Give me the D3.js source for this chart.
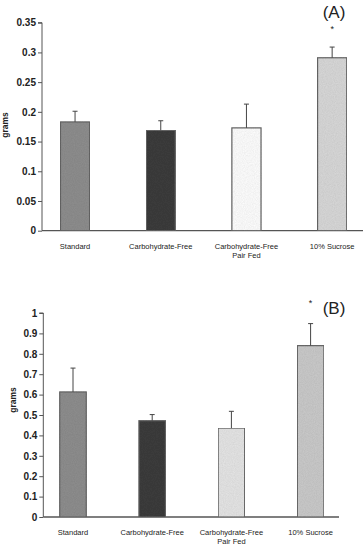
<!DOCTYPE html>
<html>
<head>
<meta charset="utf-8">
<script src="https://d3js.org/d3.v7.min.js"></script>
<style>
  body { margin: 0; background: #fff; }
  svg text { font-family: "Liberation Sans", Arial, sans-serif; fill: #222; }
</style>
</head>
<body>
<div id="chart"></div>
<script>
// groups
const categories = ["Standard", "Carbohydrate-Free", "Carbohydrate-Free|Pair Fed", "10% Sucrose"];

// panel A
const meansA = [0.183, 0.169, 0.173, 0.291];
const semA = [0.018, 0.016, 0.040, 0.018];
const ticksA = [0, 0.05, 0.1, 0.15, 0.2, 0.25, 0.3, 0.35];

// panel B
const meansB = [0.613, 0.472, 0.436, 0.840];
const semB = [0.117, 0.030, 0.082, 0.108];
const ticksB = [0, 0.1, 0.2, 0.3, 0.4, 0.5, 0.6, 0.7, 0.8, 0.9, 1];

const fillsA = ["#8f8f8f", "#3e3e3e", "#ffffff", "#d9d9d9"];
const fillsB = ["#8f8f8f", "#3e3e3e", "#e6e6e6", "#cbcbcb"];

const svg = d3.select("#chart").append("svg")
    .attr("width", 364)
    .attr("height", 546);

// a bit of scan grain on the bars
const grain = svg.append("defs").append("filter")
    .attr("id", "grain").attr("x", 0).attr("y", 0).attr("width", 1).attr("height", 1);
grain.append("feTurbulence").attr("type", "fractalNoise").attr("baseFrequency", 0.9)
    .attr("numOctaves", 2).attr("result", "noise");
grain.append("feColorMatrix").attr("in", "noise").attr("type", "matrix")
    .attr("values", "0 0 0 0 0  0 0 0 0 0  0 0 0 0 0  0 0 0 0.18 0").attr("result", "dots");
grain.append("feComposite").attr("in", "dots").attr("in2", "SourceGraphic").attr("operator", "in").attr("result", "d2");
grain.append("feMerge").selectAll("feMergeNode").data(["SourceGraphic", "d2"]).join("feMergeNode").attr("in", d => d);

function drawPanel(p) {
  const g = svg.append("g");

  const y = d3.scaleLinear().domain([0, p.max]).range([p.y0, p.y1]);
  const x = d3.scaleBand().domain(categories).range(p.xr).paddingInner(p.pad).paddingOuter(p.pad / 2);

  // y axis
  const yAxis = d3.axisLeft(y).tickValues(p.ticks).tickSize(4).tickFormat(d => d3.format("")(+d.toFixed(2)));
  const ya = g.append("g").attr("transform", `translate(${p.ax},0)`).call(yAxis);
  ya.select(".domain").attr("stroke", "#555").attr("d", `M-4,${y(p.max)}H0V${p.y0}`);
  ya.selectAll(".tick line").attr("stroke", "#555");
  ya.selectAll(".tick text").attr("font-size", 10).attr("font-weight", "bold")
      .attr("font-family", "'Liberation Sans', Arial, sans-serif").attr("x", -6).attr("fill", "#222");

  // x axis line
  g.append("line").attr("x1", p.ax).attr("x2", p.axEnd).attr("y1", p.y0).attr("y2", p.y0)
      .attr("stroke", "#555").attr("stroke-width", 1.3);

  const data = categories.map((c, i) => ({ c, m: p.means[i], e: p.sem[i], f: p.fills[i] }));

  g.selectAll("rect.bar").data(data).join("rect")
      .attr("class", "bar")
      .attr("x", d => x(d.c))
      .attr("width", x.bandwidth())
      .attr("y", d => y(d.m))
      .attr("height", d => y(0) - y(d.m))
      .attr("fill", d => d.f)
      .attr("stroke", "#666")
      .attr("stroke-width", 1.2)
      .attr("filter", "url(#grain)");

  // error bars (upper only)
  const cx = d => x(d.c) + x.bandwidth() / 2;
  g.selectAll("line.err").data(data).join("line")
      .attr("class", "err")
      .attr("x1", cx).attr("x2", cx)
      .attr("y1", d => y(d.m)).attr("y2", d => y(d.m + d.e))
      .attr("stroke", "#444").attr("stroke-width", 1);
  g.selectAll("line.cap").data(data).join("line")
      .attr("class", "cap")
      .attr("x1", d => cx(d) - 2.5).attr("x2", d => cx(d) + 2.5)
      .attr("y1", d => y(d.m + d.e)).attr("y2", d => y(d.m + d.e))
      .attr("stroke", "#444").attr("stroke-width", 1);

  // category labels
  g.selectAll("text.cat").data(data).join("text")
      .attr("class", "cat")
      .attr("text-anchor", "middle")
      .attr("font-size", 7.5)
      .attr("x", cx)
      .attr("y", p.y0 + 18)
      .each(function(d) {
        const lines = d.c.split("|");
        d3.select(this).selectAll("tspan").data(lines).join("tspan")
            .attr("x", cx(d)).attr("dy", (l, i) => i ? 9 : 0).text(l => l);
      });

  // y title
  g.append("text").attr("transform", `translate(${p.titleX},${p.titleY}) rotate(-90)`)
      .attr("text-anchor", "middle").attr("font-size", 8.5).attr("font-weight", "bold").text("grams");

  // significance mark and panel letter
  const last = data[3];
  g.append("text").attr("x", cx(last)).attr("y", p.starY).attr("text-anchor", "middle")
      .attr("font-size", 9).text("*");
  g.append("text").attr("x", 334).attr("y", p.letterY).attr("text-anchor", "middle")
      .attr("font-size", 17).text(p.letter);
}

drawPanel({
  means: meansA, sem: semA, ticks: ticksA, fills: fillsA, max: 0.35,
  y0: 230.7, y1: 22.7, ax: 42, axEnd: 363, xr: [32.2, 375], pad: 0.66,
  titleX: 8, titleY: 125, starY: 32, letterY: 18, letter: "(A)"
});

drawPanel({
  means: meansB, sem: semB, ticks: ticksB, fills: fillsB, max: 1,
  y0: 517, y1: 313, ax: 43.3, axEnd: 339, xr: [33.4, 350.2], pad: 0.665,
  titleX: 15.5, titleY: 400, starY: 306, letterY: 314, letter: "(B)"
});
</script>
</body>
</html>
